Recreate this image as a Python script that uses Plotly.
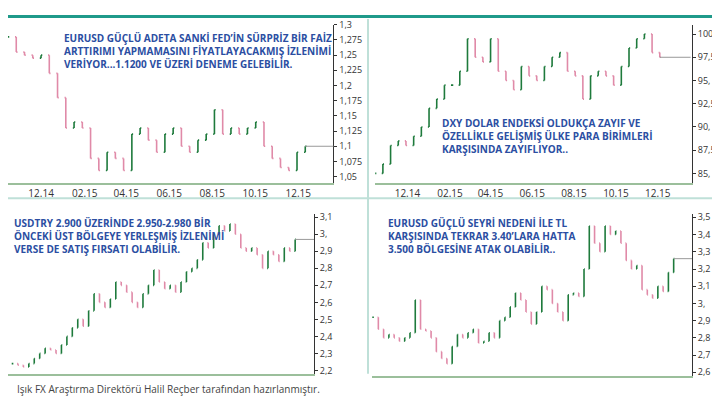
import pandas as pd
import plotly.graph_objects as go

# EURUSD, closes (Oct 2014 - Dec 2015)
eurusd = [1.28, 1.255, 1.25, 1.245, 1.25, 1.22, 1.18, 1.13, 1.14, 1.13, 1.08, 1.06, 1.09, 1.08,
          1.06, 1.12, 1.13, 1.11, 1.09, 1.12, 1.13, 1.10, 1.09, 1.11, 1.12, 1.16, 1.12, 1.13,
          1.12, 1.13, 1.14, 1.10, 1.08, 1.065, 1.06, 1.09, 1.10]
# DXY, closes (Oct 2014 - Dec 2015)
dxy = [85, 86, 88, 88.5, 88, 89, 90, 92, 93, 94.5, 94.5, 96, 99.5, 97.5, 97, 99.5, 96, 95,
       94, 96.5, 95.5, 95, 96.5, 97.5, 98, 96, 95.5, 93, 95.5, 96, 95.5, 94.5, 96.5, 98.5,
       99.5, 100, 98, 97.5]
# USDTRY, weekly closes
usdtry = [2.24, 2.23, 2.22, 2.24, 2.27, 2.30, 2.33, 2.32, 2.30, 2.35, 2.40, 2.45, 2.50, 2.46,
          2.55, 2.65, 2.60, 2.57, 2.62, 2.72, 2.70, 2.66, 2.60, 2.57, 2.65, 2.70, 2.79, 2.72,
          2.68, 2.70, 2.66, 2.72, 2.78, 2.80, 2.85, 2.95, 2.92, 3.00, 3.05, 3.02, 3.06, 3.00,
          2.92, 2.90, 2.92, 2.88, 2.80, 2.90, 2.88, 2.84, 2.92, 2.90, 2.97]
# EURTRY, weekly closes
eurtry = [2.92, 2.85, 2.80, 2.82, 2.80, 2.78, 2.80, 2.83, 3.02, 2.85, 2.84, 2.80, 2.72, 2.68,
          2.65, 2.75, 2.82, 2.80, 2.83, 2.85, 2.77, 2.78, 2.83, 2.80, 2.90, 2.92, 2.98, 3.06,
          3.02, 2.95, 2.88, 2.95, 3.10, 3.08, 3.00, 2.95, 2.90, 3.05, 3.06, 3.04, 3.20, 3.45,
          3.35, 3.30, 3.45, 3.40, 3.42, 3.35, 3.25, 3.20, 3.22, 3.08, 3.05, 3.03, 3.10, 3.07,
          3.18, 3.26]

y1_vals = [1.05, 1.075, 1.1, 1.125, 1.15, 1.175, 1.2, 1.225, 1.25, 1.275, 1.3]
y1_text = ["1,05", "1,075", "1,1", "1,125", "1,15", "1,175", "1,2", "1,225", "1,25", "1,275", "1,3"]
y2_vals = [85, 87.5, 90, 92.5, 95, 97.5, 100]
y2_text = ["85,", "87,5", "90,", "92,5", "95,", "97,5", "100,"]
y3_vals = [2.2, 2.3, 2.4, 2.5, 2.6, 2.7, 2.8, 2.9, 3.0, 3.1]
y3_text = ["2,2", "2,3", "2,4", "2,5", "2,6", "2,7", "2,8", "2,9", "3,", "3,1"]
y4_vals = [2.6, 2.7, 2.8, 2.9, 3.0, 3.1, 3.2, 3.3, 3.4, 3.5]
y4_text = ["2,6", "2,7", "2,8", "2,9", "3,", "3,1", "3,2", "3,3", "3,4", "3,5"]
x_ticks = ["2014-12-01", "2015-02-01", "2015-04-01", "2015-06-01", "2015-08-01", "2015-10-01", "2015-12-01"]
x_text = ["12.14", "02.15", "04.15", "06.15", "08.15", "10.15", "12.15"]

fig = go.Figure()


def add_panel(n, closes, start, end):
    dates = pd.date_range(start, end, periods=len(closes))
    opens = [closes[0]] + closes[:-1]
    highs = [max(o, c) for o, c in zip(opens, closes)]
    lows = [min(o, c) for o, c in zip(opens, closes)]
    sfx = "" if n == 1 else str(n)
    fig.add_trace(go.Ohlc(x=dates, open=opens, high=highs, low=lows, close=closes,
                          xaxis="x" + sfx, yaxis="y" + sfx, showlegend=False, tickwidth=0.15,
                          increasing=dict(line=dict(color="#1e7a3c", width=1.6)),
                          decreasing=dict(line=dict(color="#e08aa8", width=1.6))))
    # last-price guide line to the axis
    fig.add_shape(type="line", xref="x" + sfx, yref="y" + sfx,
                  x0=dates[-1], x1=dates[-1] + pd.Timedelta(days=45),
                  y0=closes[-1], y1=closes[-1], line=dict(color="#999", width=1))


add_panel(1, eurusd, "2014-10-15", "2015-12-11")
add_panel(2, dxy, "2014-10-15", "2015-12-04")
add_panel(3, usdtry, "2014-12-01", "2015-12-11")
add_panel(4, eurtry, "2014-10-27", "2015-12-11")

xa = dict(type="date", showgrid=False, ticks="", tickfont=dict(size=10, color="#333"),
          showline=True, linecolor="#9bbf9b", linewidth=2, rangeslider=dict(visible=False))
ya = dict(side="right", showgrid=False, ticks="outside", ticklen=3, tickcolor="#333",
          tickfont=dict(size=9, color="#333"), showline=True, linecolor="#333", linewidth=1)

fig.update_layout(
    width=720, height=400, margin=dict(l=0, r=0, t=0, b=0),
    paper_bgcolor="white", plot_bgcolor="white",
    font=dict(family="Open Sans"),
    xaxis=dict(xa, domain=[0, 0.452], range=["2014-10-15", "2016-01-20"],
               tickvals=x_ticks, ticktext=x_text, anchor="y"),
    yaxis=dict(ya, domain=[0.57, 0.975], range=[1.04, 1.3], tickvals=y1_vals, ticktext=y1_text, anchor="x"),
    xaxis2=dict(xa, domain=[0.51, 0.95], range=["2014-10-15", "2016-01-20"],
                tickvals=x_ticks, ticktext=x_text, anchor="y2"),
    yaxis2=dict(ya, domain=[0.57, 0.975], range=[84, 101], tickvals=y2_vals, ticktext=y2_text, anchor="x2"),
    xaxis3=dict(xa, domain=[0, 0.425], range=["2014-11-25", "2016-01-05"], showticklabels=False, anchor="y3"),
    yaxis3=dict(ya, domain=[0.08, 0.49], range=[2.18, 3.12], tickvals=y3_vals, ticktext=y3_text, anchor="x3"),
    xaxis4=dict(xa, domain=[0.505, 0.95], range=["2014-10-25", "2016-01-05"], showticklabels=False, anchor="y4"),
    yaxis4=dict(ya, domain=[0.075, 0.49], range=[2.58, 3.52], tickvals=y4_vals, ticktext=y4_text, anchor="x4"),
)

blue = "#2b4ea2"
notes = [
    (0.075, 0.965, "EURUSD GÜÇLÜ ADETA SANKİ FED’İN SÜRPRİZ BİR FAİZ<br>ARTTIRIMI YAPMAMASINI FİYATLAYACAKMIŞ İZLENİMİ<br>VERİYOR...1.1200 VE ÜZERİ DENEME GELEBİLİR."),
    (0.6, 0.745, "DXY DOLAR ENDEKSİ OLDUKÇA ZAYIF VE<br>ÖZELLİKLE GELİŞMİŞ ÜLKE PARA BİRİMLERİ<br>KARŞISINDA ZAYIFLIYOR.."),
    (0.005, 0.49, "USDTRY 2.900 ÜZERİNDE 2.950-2.980 BİR<br>ÖNCEKİ ÜST BÖLGEYE YERLEŞMİŞ İZLENİMİ<br>VERSE DE SATIŞ FIRSATI OLABİLİR."),
    (0.525, 0.49, "EURUSD GÜÇLÜ SEYRİ NEDENİ İLE TL<br>KARŞISINDA TEKRAR 3.40’LARA HATTA<br>3.500 BÖLGESİNE ATAK OLABİLİR.."),
]
for x, y, t in notes:
    fig.add_annotation(xref="paper", yref="paper", x=x, y=y, xanchor="left", yanchor="top",
                       text="<b>" + t + "</b>", showarrow=False, align="left",
                       font=dict(size=10, color=blue))
fig.add_annotation(xref="paper", yref="paper", x=0.01, y=0.04, xanchor="left", yanchor="middle",
                   text="Işık FX Araştırma Direktörü Halil Reçber tarafından hazırlanmıştır.",
                   showarrow=False, font=dict(size=10, color="#444"))

# frame bars
teal = "#1f9a8a"
fig.add_shape(type="rect", xref="paper", yref="paper", x0=0, x1=1, y0=0.992, y1=1,
              fillcolor=teal, line_width=0)
fig.add_shape(type="rect", xref="paper", yref="paper", x0=0, x1=1, y0=0, y1=0.008,
              fillcolor=teal, line_width=0)
fig.add_shape(type="line", xref="paper", yref="paper", x0=0, x1=1, y0=0.53, y1=0.53,
              line=dict(color="#bfe0d8", width=2))
fig.add_shape(type="line", xref="paper", yref="paper", x0=0.5, x1=0.5, y0=0.08, y1=0.99,
              line=dict(color="#bfe0d8", width=2))

fig.write_html("out.html")
